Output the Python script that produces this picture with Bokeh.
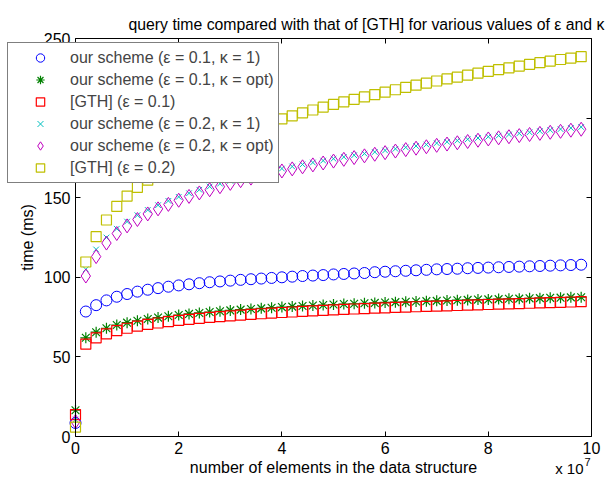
from bokeh.plotting import figure
from bokeh.models import (Range1d, LinearAxis, FixedTicker, Legend, LegendItem,
                          Label, CustomJSTickFormatter)
from bokeh.embed import file_html
from bokeh.resources import INLINE

# number of elements, in units of 10^7
x_e7 = [0, 0.2, 0.4, 0.6, 0.8, 1.0, 1.2, 1.4, 1.6, 1.8, 2.0, 2.2, 2.4, 2.6, 2.8,
        3.0, 3.2, 3.4, 3.6, 3.8, 4.0, 4.2, 4.4, 4.6, 4.8, 5.0, 5.2, 5.4, 5.6, 5.8,
        6.0, 6.2, 6.4, 6.6, 6.8, 7.0, 7.2, 7.4, 7.6, 7.8, 8.0, 8.2, 8.4, 8.6, 8.8,
        9.0, 9.2, 9.4, 9.6, 9.8]

ours_e01_k1 = [8.5, 78.5, 82.5, 85.5, 87.8, 89.5, 91.0, 92.2, 93.2, 94.1, 94.9, 95.6,
               96.3, 96.9, 97.4, 97.9, 98.4, 98.8, 99.2, 99.6, 100.0, 100.4, 100.8,
               101.1, 101.4, 101.8, 102.1, 102.4, 102.7, 103.2, 103.5, 103.8, 104.1,
               104.4, 104.7, 105.0, 105.2, 105.4, 105.7, 105.9, 106.1, 106.3, 106.5,
               106.7, 106.9, 107.1, 107.3, 107.5, 107.7, 107.9]
ours_e01_kopt = [16.5, 62.0, 65.5, 68.0, 70.0, 71.5, 72.7, 73.8, 74.7, 75.5, 76.3, 77.0,
                 77.6, 78.2, 78.7, 79.2, 79.7, 80.1, 80.5, 80.9, 81.3, 81.6, 82.0, 82.3,
                 82.6, 82.9, 83.2, 83.4, 83.7, 83.9, 84.2, 84.4, 84.6, 84.8, 85.0, 85.2,
                 85.4, 85.6, 85.8, 86.0, 86.1, 86.3, 86.5, 86.6, 86.8, 86.9, 87.1, 87.2,
                 87.4, 87.5]
gth_e01 = [13.8, 58.0, 62.0, 64.5, 66.5, 68.0, 69.3, 70.4, 71.3, 72.1, 72.9, 73.6, 74.2,
           74.8, 75.3, 75.8, 76.3, 76.7, 77.1, 77.5, 77.9, 78.2, 78.6, 78.9, 79.2, 79.5,
           79.8, 80.1, 80.3, 80.6, 80.8, 81.1, 81.3, 81.5, 81.7, 81.9, 82.1, 82.3, 82.5,
           82.7, 82.9, 83.1, 83.3, 83.5, 83.7, 83.9, 84.1, 84.3, 84.5, 84.7]
ours_e02_k1 = [10.5, 105.0, 117.5, 125.0, 130.5, 135.0, 139.0, 142.3, 145.3, 148.0, 150.5,
               152.8, 155.0, 157.0, 158.8, 160.6, 162.3, 163.9, 165.4, 166.9, 168.3,
               169.6, 170.9, 172.1, 173.3, 174.5, 175.6, 176.7, 177.7, 178.7, 179.7,
               180.7, 181.6, 182.5, 183.4, 184.3, 185.1, 185.9, 186.7, 187.5, 188.3,
               189.0, 189.7, 190.4, 191.1, 191.8, 192.5, 193.1, 193.8, 194.4]
ours_e02_kopt = [9.4, 100.8, 113.0, 121.5, 127.5, 132.3, 136.3, 139.8, 143.0, 145.8, 148.4,
                 150.8, 153.0, 155.0, 156.9, 159.0, 160.7, 162.3, 163.9, 165.4, 166.8,
                 168.1, 169.4, 170.6, 171.8, 173.0, 174.1, 175.2, 176.3, 177.3, 178.3,
                 179.3, 180.2, 181.1, 182.0, 182.9, 183.7, 184.5, 185.3, 186.1, 186.9,
                 187.6, 188.3, 189.0, 189.7, 190.4, 191.1, 191.7, 192.4, 193.0]
gth_e02 = [5.9, 109.6, 125.5, 136.0, 144.5, 151.0, 156.5, 161.0, 165.5, 169.7, 173.6,
           177.2, 180.5, 183.5, 186.3, 188.9, 191.3, 193.5, 195.6, 197.6, 199.5, 201.4,
           203.3, 205.1, 206.9, 208.6, 210.2, 211.8, 213.3, 214.8, 216.3, 217.8, 219.3,
           220.7, 222.0, 223.3, 224.6, 225.8, 227.0, 228.2, 229.4, 230.5, 231.6, 232.7,
           233.8, 234.8, 235.8, 236.8, 237.7, 238.6]

labels = ["our scheme (\u03b5 = 0.1, \u03ba = 1)",
          "our scheme (\u03b5 = 0.1, \u03ba = opt)",
          "[GTH] (\u03b5 = 0.1)",
          "our scheme (\u03b5 = 0.2, \u03ba = 1)",
          "our scheme (\u03b5 = 0.2, \u03ba = opt)",
          "[GTH] (\u03b5 = 0.2)"]
x_ticks = [0, 2, 4, 6, 8, 10]
y_ticks = [0, 50, 100, 150, 200, 250]
X_MIN, X_MAX = 0, 10
Y_MIN, Y_MAX = 0, 250

FONT = "Liberation Sans"
W, H = 608, 479
# axes box in canvas pixels
BOX_L, BOX_R, BOX_T, BOX_B = 75, 591, 38, 436
sx = (BOX_R - BOX_L) / (X_MAX - X_MIN)
sy = (BOX_B - BOX_T) / (Y_MAX - Y_MIN)

p = figure(width=W, height=H, output_backend="svg", toolbar_location=None,
           x_range=Range1d(X_MIN - BOX_L / sx, X_MAX + (W - BOX_R) / sx),
           y_range=Range1d(Y_MIN - (H - BOX_B) / sy, Y_MAX + BOX_T / sy),
           x_axis_location=None, y_axis_location=None,
           min_border=0, min_border_left=0, min_border_right=0,
           min_border_top=0, min_border_bottom=0,
           background_fill_color="white", border_fill_color="white")
p.xgrid.visible = False
p.ygrid.visible = False
p.outline_line_color = None

empty = CustomJSTickFormatter(code="return ''")


def style(ax):
    ax.major_tick_in = 5
    ax.major_tick_out = 0
    ax.minor_tick_line_color = None
    ax.axis_line_color = "black"
    ax.axis_line_width = 1
    ax.major_tick_line_color = "black"
    ax.major_label_text_font = FONT
    ax.major_label_text_font_size = "16px"
    ax.major_label_text_color = "black"
    ax.axis_label_text_font = FONT
    ax.axis_label_text_font_style = "normal"
    ax.axis_label_text_color = "black"
    return ax


bottom = style(LinearAxis(ticker=FixedTicker(ticks=x_ticks), fixed_location=Y_MIN,
                          bounds=(X_MIN, X_MAX)))
bottom.major_label_standoff = 5
bottom.axis_label = "number of elements in the data structure"
bottom.axis_label_text_font_size = "16px"
bottom.axis_label_standoff = 2
p.add_layout(bottom, "below")

left = style(LinearAxis(ticker=FixedTicker(ticks=y_ticks), fixed_location=X_MIN,
                        bounds=(Y_MIN, Y_MAX)))
left.major_label_standoff = 5
left.axis_label = "time (ms)"
left.axis_label_text_font_size = "16px"
left.axis_label_standoff = 5
p.add_layout(left, "left")

top = style(LinearAxis(ticker=FixedTicker(ticks=x_ticks), fixed_location=Y_MAX,
                       bounds=(X_MIN, X_MAX), formatter=empty))
top.major_label_text_font_size = "0px"
top.major_label_standoff = 0
p.add_layout(top, "above")

right = style(LinearAxis(ticker=FixedTicker(ticks=y_ticks), fixed_location=X_MAX,
                         bounds=(Y_MIN, Y_MAX), formatter=empty))
right.major_label_text_font_size = "0px"
right.major_label_standoff = 0
p.add_layout(right, "right")

r1 = p.scatter(x_e7, ours_e01_k1, marker="circle", size=11, fill_color=None,
               line_color="#0000ff", line_width=1)
r2 = p.scatter(x_e7, ours_e01_kopt, marker="asterisk", size=11,
               line_color="#008000", line_width=1.2)
r3 = p.scatter(x_e7, gth_e01, marker="square", size=10, fill_color=None,
               line_color="#ff0000", line_width=1.2)
r4 = p.scatter(x_e7, ours_e02_k1, marker="x", size=8,
               line_color="#00bfbf", line_width=1)
r5 = p.scatter(x_e7, ours_e02_kopt, marker="diamond", size=14, fill_color=None,
               line_color="#bf00bf", line_width=1)
r6 = p.scatter(x_e7, gth_e02, marker="square", size=10, fill_color=None,
               line_color="#bfbf00", line_width=1.2)

items = [LegendItem(label=l, renderers=[r]) for l, r in
         zip(labels, [r1, r2, r3, r4, r5, r6])]
legend = Legend(items=items, location=(7, H - 183), margin=0, padding=4, spacing=1,
                label_height=21, glyph_height=21, glyph_width=56, label_standoff=2,
                label_text_font=FONT, label_text_font_size="16px",
                border_line_color="black", border_line_width=1,
                background_fill_color="white", background_fill_alpha=1)
p.add_layout(legend, "center")

p.add_layout(Label(x=128, y=H - 24, x_units="screen", y_units="screen",
                   text="query time compared with that of [GTH] for various values of \u03b5 and \u03ba",
                   text_font=FONT, text_font_size="15.8px", text_baseline="alphabetic",
                   text_align="left", text_color="black"))
p.add_layout(Label(x=583, y=11, x_units="screen", y_units="screen",
                   text="x 10", text_font=FONT, text_font_size="15px",
                   text_baseline="alphabetic", text_align="right", text_color="black"))
p.add_layout(Label(x=584, y=18, x_units="screen", y_units="screen",
                   text="7", text_font=FONT, text_font_size="11px",
                   text_baseline="alphabetic", text_align="left", text_color="black"))

open("out.html", "w").write(file_html(p, INLINE))
